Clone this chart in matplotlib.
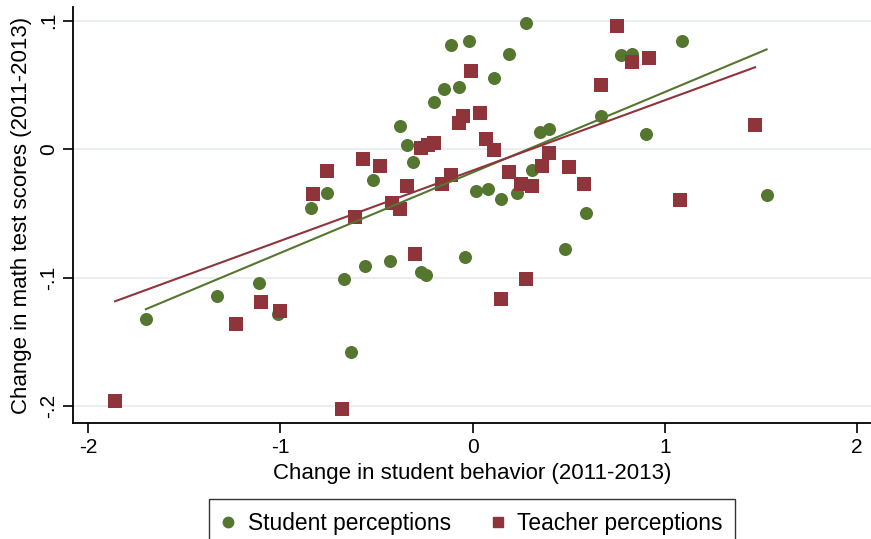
import numpy as np
import matplotlib.pyplot as plt
from matplotlib.lines import Line2D

plt.rcParams['font.family'] = ['Liberation Sans', 'DejaVu Sans']

# Student-perception change in behaviour vs change in math scores
student_x = [-1.70, -1.33, -1.11, -1.01, -0.84, -0.76, -0.67, -0.63, -0.56, -0.52,
             -0.43, -0.38, -0.34, -0.31, -0.27, -0.24, -0.20, -0.15, -0.11, -0.07,
             -0.04, -0.02, 0.02, 0.08, 0.11, 0.15, 0.19, 0.23, 0.28, 0.31,
             0.35, 0.40, 0.48, 0.59, 0.67, 0.77, 0.83, 0.90, 1.09, 1.53]
student_y = [-0.132, -0.114, -0.104, -0.128, -0.046, -0.034, -0.101, -0.158, -0.091, -0.024,
             -0.087, 0.018, 0.003, -0.010, -0.096, -0.098, 0.037, 0.047, 0.081, 0.048,
             -0.084, 0.084, -0.033, -0.031, 0.055, -0.039, 0.074, -0.034, 0.098, -0.016,
             0.013, 0.016, -0.078, -0.050, 0.026, 0.073, 0.074, 0.012, 0.084, -0.036]

# Teacher-perception change in behaviour vs change in math scores
teacher_x = [-1.86, -1.23, -1.10, -1.00, -0.83, -0.76, -0.61, -0.68, -0.57, -0.48,
             -0.42, -0.38, -0.34, -0.30, -0.27, -0.23, -0.20, -0.16, -0.11, -0.07,
             -0.05, -0.01, 0.04, 0.07, 0.11, 0.15, 0.19, 0.25, 0.28, 0.31,
             0.36, 0.40, 0.50, 0.58, 0.67, 0.75, 0.83, 0.92, 1.08, 1.47]
teacher_y = [-0.196, -0.136, -0.119, -0.126, -0.035, -0.017, -0.053, -0.202, -0.008, -0.013,
             -0.042, -0.047, -0.029, -0.082, 0.001, 0.003, 0.005, -0.027, -0.020, 0.020,
             0.026, 0.061, 0.028, 0.008, -0.001, -0.117, -0.018, -0.027, -0.101, -0.029,
             -0.013, -0.003, -0.014, -0.027, 0.050, 0.096, 0.068, 0.071, -0.040, 0.019]

# fitted lines (intercept, slope)
student_fit = (-0.0182, 0.0626)
teacher_fit = (-0.0167, 0.0547)

green = '#55762f'
red = '#8f343b'

fig = plt.figure(figsize=(8.71, 5.39), dpi=100)
ax = fig.add_axes([73 / 871, (539 - 423) / 539, 798 / 871, 416 / 539])

ax.scatter(student_x, student_y, s=88, marker='o', color=green, linewidths=0, zorder=3)
ax.scatter(teacher_x, teacher_y, s=88, marker='s', color=red, linewidths=0, zorder=3)

for xs, (a, b), c in [(student_x, student_fit, green), (teacher_x, teacher_fit, red)]:
    xx = np.array([min(xs), max(xs)])
    ax.plot(xx, a + b * xx, color=c, lw=1.5, zorder=4)

ax.set_xlim(-2.079, 2.073)
ax.set_ylim(-0.2132, 0.1106)
ax.set_xticks([-2, -1, 0, 1, 2])
ax.set_xticklabels(['-2', '-1', '0', '1', '2'])
ax.set_yticks([0.1, 0, -0.1, -0.2])
ax.set_yticklabels(['.1', '0', '-.1', '-.2'], rotation=90, va='center')
ax.grid(axis='y', color='#e9eff1', lw=1.5)
ax.set_axisbelow(True)
for s in ['top', 'right']:
    ax.spines[s].set_visible(False)
for s in ['left', 'bottom']:
    ax.spines[s].set_linewidth(1.3)
ax.tick_params(axis='both', labelsize=15, length=7, width=1.2, direction='out', pad=4)
ax.set_xlabel('Change in student behavior (2011-2013)', fontsize=16, labelpad=4)
ax.set_ylabel('Change in math test scores (2011-2013)', fontsize=16, labelpad=5)

handles = [Line2D([], [], marker='o', ls='', color=green, markersize=7.5),
           Line2D([], [], marker='s', ls='', color=red, markersize=7.5)]
leg = fig.legend(handles, ['Student perceptions', 'Teacher perceptions'],
                 loc='upper center', bbox_to_anchor=(472 / 871, 40 / 539),
                 borderaxespad=0, ncol=2, fontsize=16.4, frameon=True, fancybox=False,
                 edgecolor='black', handletextpad=0.55, columnspacing=1.75,
                 borderpad=0.55, handlelength=0.6)
leg.get_frame().set_linewidth(1.0)

fig.savefig('out.png', dpi=100)
